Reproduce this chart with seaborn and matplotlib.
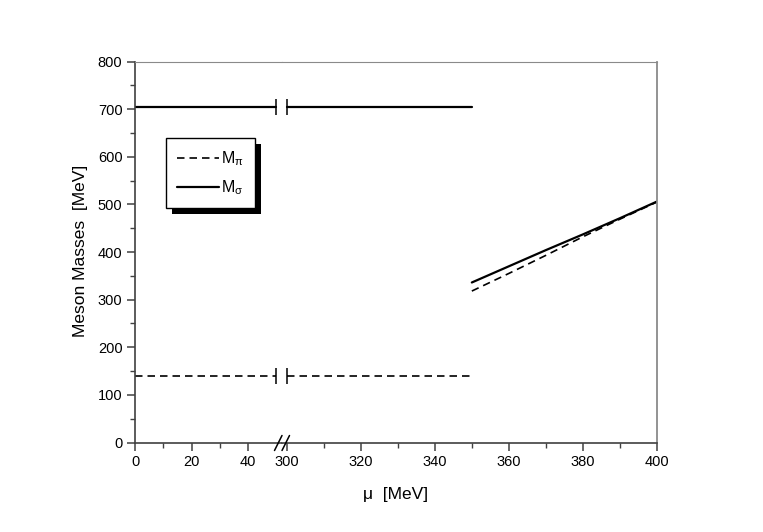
import numpy as np
import pandas as pd
import matplotlib
matplotlib.use('Agg')
import matplotlib.pyplot as plt
import seaborn as sns
from matplotlib.lines import Line2D
from matplotlib.patches import Rectangle

# Données
mu_left = [0, 50]
mu_flat = [300, 350]
mu_rise = [350, 360, 370, 380, 390, 400]
m_pi_flat = [140, 140]
m_sigma_flat = [705, 705]
m_pi_rise = [318, 355, 393, 432, 469, 505]
m_sigma_rise = [336, 370, 404, 437, 471, 506]

x_ticks_left = [0, 20, 40]
x_minor_left = [10, 30]
x_ticks_right = [300, 320, 340, 360, 380, 400]
x_minor_right = [310, 330, 350, 370, 390]
y_ticks = [0, 100, 200, 300, 400, 500, 600, 700, 800]
y_minor = [50, 150, 250, 350, 450, 550, 650, 750]

sns.set_style('ticks')
plt.rcParams['font.family'] = ['Liberation Sans', 'DejaVu Sans']
plt.rcParams['mathtext.fontset'] = 'custom'
plt.rcParams['mathtext.rm'] = 'Liberation Sans'
plt.rcParams['mathtext.it'] = 'Liberation Sans'
plt.rcParams['text.color'] = 'black'
plt.rcParams['xtick.labelcolor'] = 'black'
plt.rcParams['ytick.labelcolor'] = 'black'

W, H = 763, 532
fig = plt.figure(figsize=(W / 100, H / 100), dpi=100)
x0, xb, x1 = 135, 281.5, 657
y_bot, y_top = 442.5, 61.5

def px(x, y):
    return x / W, 1 - y / H

ax1 = fig.add_axes([x0 / W, 1 - y_bot / H, (xb - x0) / W, (y_bot - y_top) / H])
ax2 = fig.add_axes([xb / W, 1 - y_bot / H, (x1 - xb) / W, (y_bot - y_top) / H])

dark, light = '#404040', '#8a8a8a'
lw_solid, lw_dash = 1.6, 1.2
dash = (4.5, 3.0)
bar = dict(marker='|', markersize=11.5, markeredgewidth=1.1,
           markeredgecolor='black', markerfacecolor='black')

# partie gauche (0 - 50)
df_l = pd.DataFrame({'mu': mu_left, 'pi': m_pi_flat, 'sigma': m_sigma_flat})
sns.lineplot(data=df_l, x='mu', y='sigma', ax=ax1, color='black', lw=lw_solid,
             markevery=[1], **bar)
sns.lineplot(data=df_l, x='mu', y='pi', ax=ax1, color='black', lw=lw_dash,
             markevery=[1], **bar)
ax1.lines[-1].set_dashes(dash)

# partie droite (300 - 400)
df_f = pd.DataFrame({'mu': mu_flat, 'pi': m_pi_flat, 'sigma': m_sigma_flat})
df_r = pd.DataFrame({'mu': mu_rise, 'pi': m_pi_rise, 'sigma': m_sigma_rise})
sns.lineplot(data=df_f, x='mu', y='sigma', ax=ax2, color='black', lw=lw_solid,
             markevery=[0], **bar)
sns.lineplot(data=df_f, x='mu', y='pi', ax=ax2, color='black', lw=lw_dash,
             markevery=[0], **bar)
ax2.lines[-1].set_dashes(dash)
sns.lineplot(data=df_r, x='mu', y='sigma', ax=ax2, color='black', lw=lw_solid)
sns.lineplot(data=df_r, x='mu', y='pi', ax=ax2, color='black', lw=lw_dash)
ax2.lines[-1].set_dashes(dash)

for ax in (ax1, ax2):
    ax.set_ylim(0, 800)
    ax.set_xlabel('')
    ax.set_ylabel('')
    ax.spines['top'].set_color(light)
    ax.spines['bottom'].set_color(dark)
    ax.spines['bottom'].set_linewidth(1.2)
    ax.tick_params(axis='x', which='major', direction='out', length=6, width=1.1,
                   color=dark, labelsize=10.5, pad=3)
    ax.tick_params(axis='x', which='minor', direction='out', length=3.5, width=1, color=dark)

ax1.set_xlim(0, 51.8)
ax1.set_xticks(x_ticks_left)
ax1.set_xticks(x_minor_left, minor=True)
ax1.set_yticks(y_ticks)
ax1.set_yticks(y_minor, minor=True)
ax1.spines['right'].set_visible(False)
ax1.spines['left'].set_color(dark)
ax1.spines['left'].set_linewidth(1.2)
ax1.tick_params(axis='y', which='major', direction='out', length=6, width=1.1,
                color=dark, labelsize=10.5, pad=3)
ax1.tick_params(axis='y', which='minor', direction='out', length=3.5, width=1, color=dark)

ax2.set_xlim(298.6, 400)
ax2.set_xticks(x_ticks_right)
ax2.set_xticks(x_minor_right, minor=True)
ax2.set_yticks([])
ax2.spines['left'].set_visible(False)
ax2.spines['right'].set_color(light)
ax2.spines['right'].set_linewidth(1.3)

# marques de coupure "//" sur l'axe des x
for xs in (274.5, 282):
    a = px(xs, y_bot + 8)
    b = px(xs + 7.5, y_bot - 7)
    fig.add_artist(Line2D([a[0], b[0]], [a[1], b[1]], color='black', lw=1.1))

fig.text(*px(396, 494), 'μ  [MeV]', ha='center', va='center', fontsize=12.5)
fig.text(*px(80, 251), 'Meson Masses  [MeV]', ha='center', va='center',
         rotation=90, fontsize=12.5)

# légende avec ombre noire
handles = [Line2D([], [], color='black', lw=lw_dash, dashes=dash),
           Line2D([], [], color='black', lw=lw_solid)]
leg = fig.legend(handles, [r'M$_\pi$', r'M$_\sigma$'], loc='upper left',
                 bbox_to_anchor=px(166, 138), borderaxespad=0, fancybox=False,
                 framealpha=1, edgecolor='black', fontsize=11.5, handlelength=2.6,
                 handletextpad=0.15, labelspacing=0.65, borderpad=0.7)
leg.get_frame().set_linewidth(1.0)
leg.set_zorder(6)

fig.canvas.draw()
bb = leg.get_window_extent()
off = 6
shadow = Rectangle(((bb.x0 + off) / W, (bb.y0 - off) / H), bb.width / W, bb.height / H,
                   transform=fig.transFigure, facecolor='black', edgecolor='none', zorder=5)
fig.add_artist(shadow)

fig.savefig('out.png', dpi=100)
